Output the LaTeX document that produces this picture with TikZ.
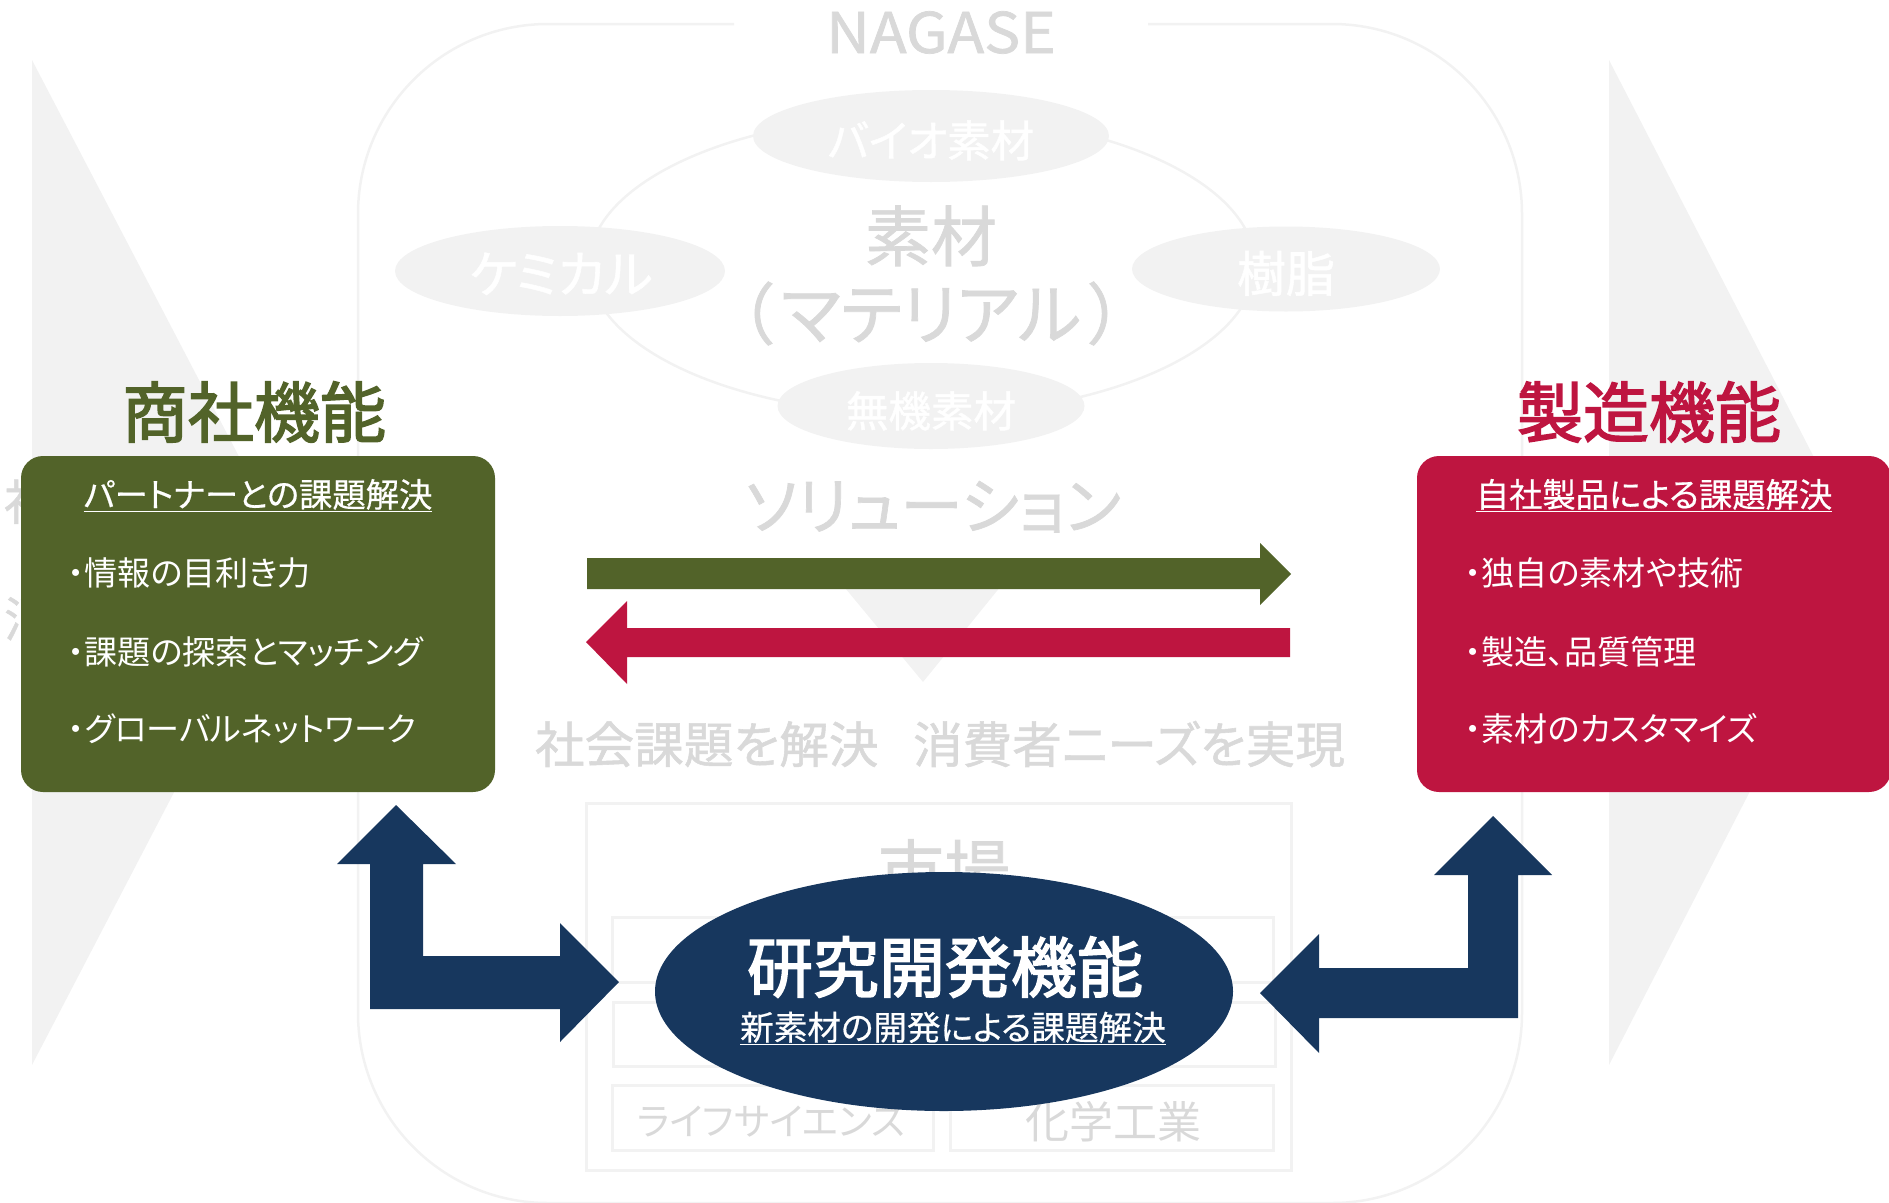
\documentclass[tikz,border=0pt]{standalone}
\usepackage{fontspec}
\usetikzlibrary{shapes.geometric}
\setmainfont{Noto Sans CJK JP}[RawFeature=+palt]
\newfontfamily\medfont{Noto Sans CJK JP}[RawFeature=+palt,FakeBold=1.1]
\newfontfamily\lightmed{Noto Sans CJK JP}[RawFeature=+palt,FakeBold=0.5]
\newfontfamily\heavyfont{Noto Sans CJK JP}[RawFeature=+palt,FakeBold=2.4]
\newfontfamily\nagasefont{Noto Sans CJK JP}[FakeBold=1.3,FakeStretch=1.08]
\newcommand{\fs}[1]{\fontsize{#1pt}{#1pt}\selectfont}
\definecolor{ghostfill}{HTML}{F2F2F2}
\definecolor{ghosttext}{HTML}{D9D9D9}
\definecolor{olivebox}{HTML}{526329}
\definecolor{crimsonbox}{HTML}{BE1540}
\definecolor{navyblock}{HTML}{17375E}
\tikzset{
  x=1pt,y=-1pt,
  chevron/.style={fill=ghostfill,draw=none},
  ghostline/.style={draw=ghostfill,line width=2.5pt,fill=none},
  ghostbox/.style={draw=ghostfill,line width=3pt,fill=none},
  blob/.style={ellipse,fill=ghostfill,draw=none,inner sep=0pt},
  lbl/.style={inner sep=0pt,anchor=base},
  lblw/.style={inner sep=0pt,anchor=base west},
  ghost/.style={lbl,text=ghosttext},
  whitelbl/.style={lbl,text=white},
  itemlbl/.style={lblw,text=white,font=\fs{33.1}},
  headlbl/.style={lbl,text=white,font=\lightmed\fs{33.3}},
  funcbox/.style={rounded corners=22pt,draw=none},
}
\begin{document}
\begin{tikzpicture}
\useasboundingbox (0,0) rectangle (1889,1202);
% ghost chevrons
\fill[chevron] (32,60) -- (294,562) -- (32,1065) -- cycle;
\fill[chevron] (1609,60) -- (1868,562) -- (1609,1065) -- cycle;
\node[ghost,anchor=base west,font=\medfont\fs{48}] (ghostshakai) at (4,520) {社};
\node[ghost,anchor=base west,font=\medfont\fs{48}] (ghostshohi) at (4,637) {消};
% NAGASE frame
\draw[ghostline,rounded corners=190pt] (734,24) -- (358,24) -- (358,1203) -- (1522,1203) -- (1522,24) -- (1148,24);
\node[ghost,font=\nagasefont\fs{56}] (nagase) at (941,53) {NAGASE};
% materials ring
\draw[ghostline] (922,265) ellipse [x radius=333,y radius=150];
\node[blob,minimum width=356pt,minimum height=92pt] (bio) at (931,136) {};
\node[blob,minimum width=330pt,minimum height=90pt] (chem) at (560,271) {};
\node[blob,minimum width=308pt,minimum height=85pt] (resin) at (1286,269) {};
\node[blob,minimum width=307pt,minimum height=86pt] (inorg) at (931,406) {};
\node[whitelbl,font=\medfont\fs{43.5}] (biot) at (931,157) {バイオ素材};
\node[whitelbl,font=\medfont\fs{51}] (chemt) at (561,293) {ケミカル};
\node[whitelbl,font=\medfont\fs{49}] (resint) at (1286,292) {樹脂};
\node[whitelbl,font=\medfont\fs{42.5}] (inorgt) at (931,427) {無機素材};
\node[ghost,font=\medfont\fs{66}] (sozai) at (931,261) {素材};
\node[ghost,font=\medfont\fs{67}] (material) at (931,339) {（\hspace{0.12em}マテリアル\hspace{0.12em}）};
\node[ghost,font=\medfont\fs{62.5}] (solution) at (933,529) {ソリューション};
% funnel triangle
\fill[chevron] (826,565) -- (1018,565) -- (923,682) -- cycle;
\node[ghost,font=\medfont\fs{49.6}] (goal) at (940,763) {社会課題を解決\hspace{0.7em}消費者ニーズを実現};
% market
\draw[ghostbox] (586,803) rectangle (1291,1170);
\node[ghost,font=\medfont\fs{66}] (market) at (944,895) {市場};
\draw[ghostbox] (612,917) rectangle (933,982);
\draw[ghostbox] (950,917) rectangle (1273,982);
\draw[ghostbox] (613,1002) rectangle (933,1066);
\draw[ghostbox] (950,1002) rectangle (1275,1066);
\draw[ghostbox] (612,1085) rectangle (933,1150);
\draw[ghostbox] (950,1085) rectangle (1273,1150);
\node[ghost,font=\fs{37.7}] (life) at (771,1135) {ライフサイエンス};
\node[ghost,font=\fs{44}] (chemind) at (1113,1138) {化学工業};
% flow arrows
\fill[olivebox] (587,558) -- (1260,558) -- (1260,543) -- (1291,574) -- (1260,605) -- (1260,589) -- (587,589) -- cycle;
\fill[crimsonbox] (1290,628) -- (627,628) -- (627,601) -- (586,642) -- (627,684) -- (627,657) -- (1290,657) -- cycle;
% function boxes
\node[lbl,text=olivebox,font=\heavyfont\fs{66}] (tradet) at (254,437) {商社機能};
\fill[olivebox,funcbox] (21,456) rectangle (495,792);
\node[headlbl] (tradeh) at (258,507) {\underline{パートナーとの課題解決}};
\node[itemlbl] (t0) at (68,585) {・情報の目利き力};
\node[itemlbl] (t1) at (68,664) {・課題の探索とマッチング};
\node[itemlbl] (t2) at (68,741) {・グローバルネットワーク};
\node[lbl,text=crimsonbox,font=\heavyfont\fs{66}] (makert) at (1649,437) {製造機能};
\fill[crimsonbox,funcbox] (1417,456) rectangle (1891,792);
\node[headlbl] (makerh) at (1654,507) {\underline{自社製品による課題解決}};
\node[itemlbl] (m0) at (1465,585) {・独自の素材や技術};
\node[itemlbl] (m1) at (1465,664) {・製造、品質管理};
\node[itemlbl] (m2) at (1465,741) {・素材のカスタマイズ};
% R&D block arrows
\fill[navyblock] (396,805) -- (456,864) -- (423,864) -- (423,956) -- (560,956) -- (560,923) -- (619,982) -- (560,1042) -- (560,1009) -- (370,1009) -- (370,864) -- (337,864) -- cycle;
\fill[navyblock] (1493,816) -- (1552,875) -- (1518,875) -- (1518,1018) -- (1319,1018) -- (1319,1053) -- (1260,993) -- (1319,934) -- (1319,968) -- (1468,968) -- (1468,875) -- (1434,875) -- cycle;
\node[ellipse,fill=navyblock,draw=none,inner sep=0pt,minimum width=578pt,minimum height=239pt] (rd) at (944,991.5) {};
\node[whitelbl,font=\heavyfont\fs{66}] (rdt) at (945,992) {研究開発機能};
\node[whitelbl,font=\lightmed\fs{33.6}] (rdh) at (953,1040) {\underline{新素材の開発による課題解決}};
\end{tikzpicture}
\end{document}
